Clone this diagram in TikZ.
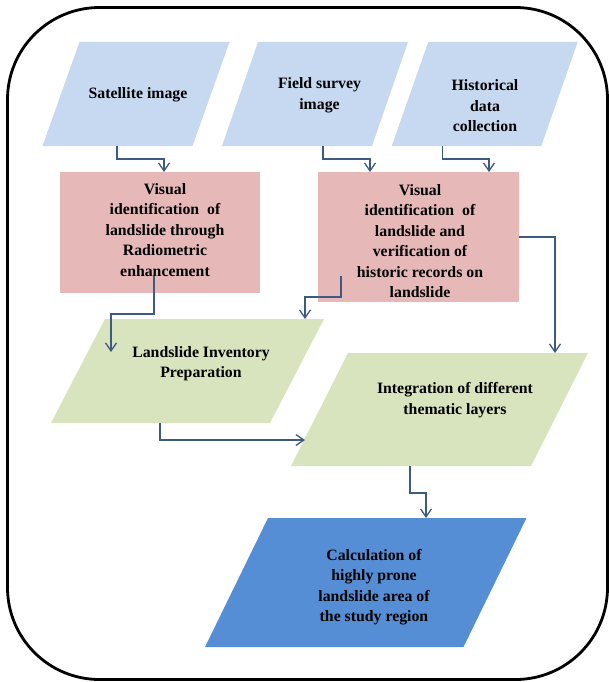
\documentclass[tikz,border=0pt]{standalone}
\usepackage{fontspec}
\setmainfont{Liberation Serif}
\usetikzlibrary{arrows.meta,calc}
\definecolor{lblue}{HTML}{C6D9F1}
\definecolor{pinkc}{HTML}{E6B9B8}
\definecolor{greenc}{HTML}{D7E4BD}
\definecolor{dblue}{HTML}{558ED5}
\definecolor{arrc}{HTML}{3D5A80}
\newcommand\mypara[3]{%
  \fill[#3] ($(#1.north west)+(#2,0)$) -- ($(#1.north east)+(#2,0)$) --
    ($(#1.south east)-(#2,0)$) -- ($(#1.south west)-(#2,0)$) -- cycle;}
\begin{document}
\begin{tikzpicture}[x=1pt,y=-1pt,
  box/.style={inner sep=0pt,outer sep=0pt},
  txt/.style={align=center,font=\bfseries\fontsize{15.8}{20.5}\selectfont,inner sep=0pt},
  conn/.style={draw=arrc,line width=1.3pt,-{Straight Barb[length=8pt,width=11pt]}}]
\useasboundingbox (0,0) rectangle (609,682);
\draw[line width=2.8pt,rounded corners=92pt] (7.5,7.5) rectangle (607.5,679.5);
% shapes
\node[box,minimum width=150pt,minimum height=104pt] (sat) at (136,94) {};
\node[box,minimum width=150pt,minimum height=104pt] (fld) at (315,94) {};
\node[box,minimum width=149.5pt,minimum height=104pt] (his) at (484.75,94) {};
\node[box,fill=pinkc,minimum width=200pt,minimum height=121pt] (vis1) at (160,232.5) {};
\node[box,fill=pinkc,minimum width=201pt,minimum height=130pt] (vis2) at (418.5,237) {};
\node[box,minimum width=219pt,minimum height=104pt] (inv) at (187.5,371) {};
\node[box,minimum width=240pt,minimum height=113pt] (integ) at (439.5,409.5) {};
\node[box,minimum width=258.5pt,minimum height=129pt] (res) at (365.75,582.5) {};
\mypara{sat}{18.5}{lblue}
\mypara{fld}{18}{lblue}
\mypara{his}{18.25}{lblue}
\mypara{inv}{27}{greenc}
\mypara{integ}{28.5}{greenc}
\mypara{res}{31.5}{dblue}
% texts
\node[txt] (satT) at (138,95) {Satellite image};
\node[txt] (fldT) at (319.5,95.5) {Field survey\\image};
\node[txt] (hisT) at (485,106) {Historical\\data\\collection};
\node[txt] (vis1T) at (165,230) {Visual\\identification~ of\\landslide through\\Radiometric\\enhancement};
\node[txt] (vis2T) at (420,241) {Visual\\identification~ of\\landslide and\\verification of\\historic records on\\landslide};
\node[txt] (invT) at (201,363.5) {Landslide Inventory\\Preparation};
\node[txt] (integT) at (455,400) {Integration of different\\thematic layers};
\node[txt] (resT) at (374,587) {Calculation of\\highly prone\\landslide area of\\the study region};
% connectors
\draw[conn] ($(sat.south)+(-19,0)$) -- ++(0,13) -| ($(vis1.north)+(4,0)$);
\draw[conn] ($(fld.south)+(8,0)$) -- ++(0,13) -| ($(vis2.north)+(-48.5,0)$);
\draw[conn] ($(his.south)+(-42,0)$) -- ++(0,13) -| ($(vis2.north)+(70.5,0)$);
\draw[conn] ($(vis1.center)+(-6,43.5)$) -- ++(0,38) -| ($(inv.center)+(-76.5,-19)$);
\draw[conn] ($(vis2.center)+(-77.5,39)$) -- ++(0,21) -| ($(inv.north)+(117.5,0)$);
\draw[conn] (vis2.east) -| ($(integ.north)+(115.5,0)$);
\draw[conn] ($(inv.south)+(-27.5,0)$) |- ($(integ.center)+(-134.5,30.5)$);
\draw[conn] ($(integ.south)+(-29.5,0)$) -- ++(0,27) -| ($(res.north)+(60.25,0)$);
\end{tikzpicture}
\end{document}
